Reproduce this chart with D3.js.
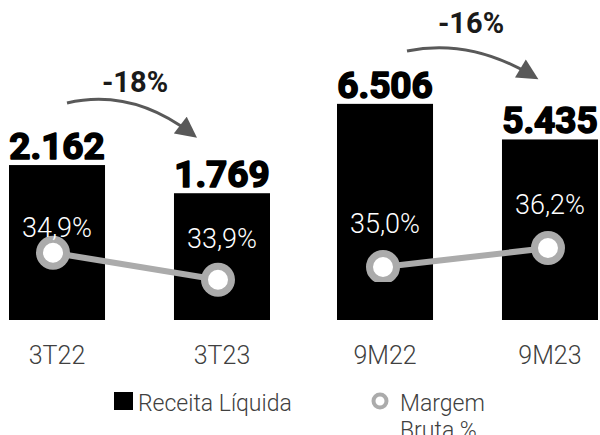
<!DOCTYPE html>
<html>
<head>
<meta charset="utf-8">
<script src="https://cdn.jsdelivr.net/npm/d3@7"></script>
<style>
  body { margin: 0; background: #fff; }
  svg { display: block; font-family: Roboto, "Open Sans", sans-serif; }
</style>
</head>
<body>
<div id="chart"></div>
<script>
(function() {
  // quarter and year-to-date, drawn as two separate little charts
  const catsQ = ['3T22', '3T23'];
  const receitaQ = [2162, 1769];
  const margemQ = [34.9, 33.9];

  const catsY = ['9M22', '9M23'];
  const receitaY = [6506, 5435];
  const margemY = [35.0, 36.2];

  const variacoes = ['-18%', '-16%'];
  const legendLabels = ['Receita Líquida', 'Margem Bruta %'];

  const W = 600, H = 435;
  const BASE = 320;
  const GRAY = '#ababab';

  const svg = d3.select('#chart').append('svg')
    .attr('width', W)
    .attr('height', H);

  const defs = svg.append('defs');
  defs.append('marker')
    .attr('id', 'arrowHead')
    .attr('viewBox', '0 0 10 10')
    .attr('refX', 7)
    .attr('refY', 5)
    .attr('markerWidth', 7.5)
    .attr('markerHeight', 7)
    .attr('markerUnits', 'strokeWidth')
    .attr('orient', 'auto')
    .append('path')
    .attr('d', 'M0,0 L10,5 L0,10 Z')
    .attr('fill', '#595959');

  defs.append('clipPath')
    .attr('id', 'clipY')
    .append('rect')
    .attr('x', 300).attr('y', 0)
    .attr('width', 300).attr('height', 282);

  function panel(cats, receita, margem, opts) {
    const g = svg.append('g');

    const x = d3.scaleBand()
      .domain(cats)
      .range(opts.xRange)
      .paddingInner(0.418)
      .paddingOuter(0);

    const y = d3.scaleLinear()
      .domain([0, opts.yMax])
      .range([BASE, opts.yTop]);

    const y2 = d3.scaleLinear()
      .domain([30, 40])
      .range(opts.y2Range);

    const rows = cats.map(function(c, i) {
      return { cat: c, receita: receita[i], margem: margem[i] };
    });

    g.selectAll('rect.bar')
      .data(rows)
      .enter().append('rect')
      .attr('class', 'bar')
      .attr('x', d => x(d.cat))
      .attr('y', d => y(d.receita))
      .attr('width', x.bandwidth())
      .attr('height', d => BASE - y(d.receita))
      .attr('fill', '#000');

    // no black weight installed, so thicken the bold with a stroke
    g.selectAll('text.val')
      .data(rows)
      .enter().append('text')
      .attr('class', 'val')
      .attr('x', d => x(d.cat) + x.bandwidth() / 2)
      .attr('y', d => y(d.receita) - 6)
      .attr('text-anchor', 'middle')
      .attr('font-size', 37)
      .attr('font-weight', 700)
      .attr('fill', '#000')
      .attr('stroke', '#000')
      .attr('stroke-width', 1.6)
      .attr('stroke-linejoin', 'round')
      .text(d => d3.format(',')(d.receita).replace(',', '.'));

    // category labels under the bars
    g.selectAll('text.cat')
      .data(rows)
      .enter().append('text')
      .attr('class', 'cat')
      .attr('x', d => x(d.cat) + x.bandwidth() / 2)
      .attr('y', 364)
      .attr('text-anchor', 'middle')
      .attr('font-size', 25)
      .attr('font-weight', 300)
      .attr('fill', '#404040')
      .text(d => d.cat);

    const cx = d => x(d.cat) + x.bandwidth() / 2 + opts.dotShift;

    const lineG = g.append('g');
    if (opts.clip) lineG.attr('clip-path', 'url(#' + opts.clip + ')');

    lineG.append('path')
      .datum(rows)
      .attr('d', d3.line().x(cx).y(d => y2(d.margem)))
      .attr('fill', 'none')
      .attr('stroke', GRAY)
      .attr('stroke-width', 6);

    lineG.selectAll('circle')
      .data(rows)
      .enter().append('circle')
      .attr('cx', cx)
      .attr('cy', d => y2(d.margem))
      .attr('r', 13.5)
      .attr('fill', '#fff')
      .attr('stroke', GRAY)
      .attr('stroke-width', 7);

    g.selectAll('text.pct')
      .data(rows)
      .enter().append('text')
      .attr('class', 'pct')
      .attr('x', d => x(d.cat) + x.bandwidth() / 2)
      .attr('y', (d, i) => y2(d.margem) - opts.labelGap[i])
      .attr('text-anchor', 'middle')
      .attr('font-size', 27)
      .attr('font-weight', 300)
      .attr('fill', '#fff')
      .text(d => d3.format('.1f')(d.margem).replace('.', ',') + '%');

    // curved arrow with the variation
    const a = opts.arrow;
    g.append('path')
      .attr('d', 'M' + a[0] + ',' + a[1] + ' Q' + a[2] + ',' + a[3] + ' ' + a[4] + ',' + a[5])
      .attr('fill', 'none')
      .attr('stroke', '#595959')
      .attr('stroke-width', 3)
      .attr('marker-end', 'url(#arrowHead)');

    g.append('text')
      .attr('x', opts.varPos[0])
      .attr('y', opts.varPos[1])
      .attr('text-anchor', 'middle')
      .attr('font-size', 29)
      .attr('font-weight', 700)
      .attr('fill', '#1a1a1a')
      .text(opts.variacao);
  }

  panel(catsQ, receitaQ, margemQ, {
    xRange: [9, 270],
    yMax: 3000,
    yTop: 105,
    y2Range: [385, 115],
    dotShift: -4,
    labelGap: [16, 32],
    arrow: [67, 103, 132, 88, 192, 134],
    varPos: [135, 92],
    variacao: variacoes[0]
  });

  panel(catsY, receitaY, margemY, {
    xRange: [337, 598],
    yMax: 9000,
    yTop: 21,
    y2Range: [346, 188],
    dotShift: -2,
    labelGap: [34, 34],
    clip: 'clipY',
    arrow: [407, 51, 470, 38, 533, 76],
    varPos: [471, 33],
    variacao: variacoes[1]
  });

  // legend
  const leg = svg.append('g');

  leg.append('rect')
    .attr('x', 114).attr('y', 392)
    .attr('width', 19).attr('height', 18)
    .attr('fill', '#000');

  leg.append('text')
    .attr('x', 138).attr('y', 411)
    .attr('font-size', 23)
    .attr('font-weight', 300)
    .attr('fill', '#404040')
    .text(legendLabels[0]);

  leg.append('circle')
    .attr('cx', 380).attr('cy', 401)
    .attr('r', 6.5)
    .attr('fill', '#fff')
    .attr('stroke', GRAY)
    .attr('stroke-width', 4);

  const parts = legendLabels[1].split(' ');
  const t2 = leg.append('text')
    .attr('x', 400).attr('y', 411)
    .attr('font-size', 23)
    .attr('font-weight', 300)
    .attr('fill', '#404040');
  t2.append('tspan').attr('x', 400).text(parts[0]);
  t2.append('tspan').attr('x', 400).attr('dy', 27).text(parts.slice(1).join(' '));
})();
</script>
</body>
</html>
